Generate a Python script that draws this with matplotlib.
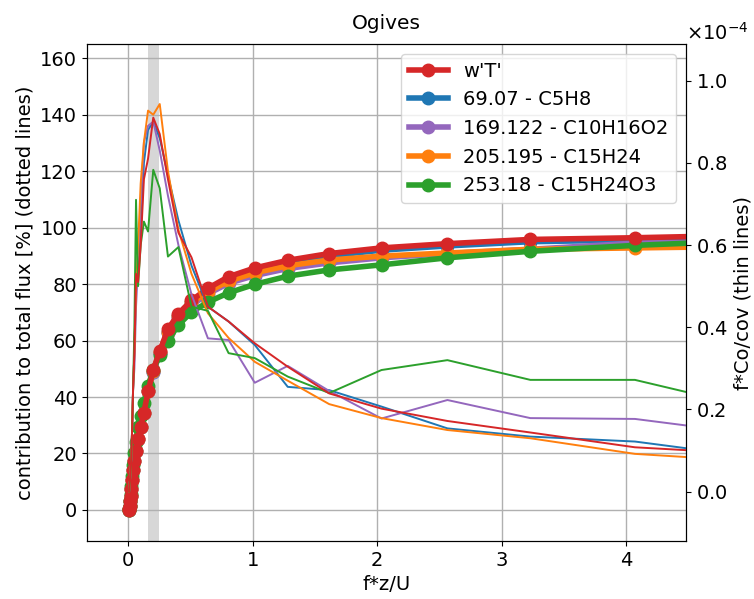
import matplotlib
matplotlib.use("Agg")
import matplotlib.pyplot as plt

# frequency axis (f*z/U)
x = [0.0080, 0.0100, 0.0126, 0.0159, 0.0200, 0.0252, 0.0320, 0.0400, 0.0505, 0.0636,
     0.0800, 0.101, 0.127, 0.160, 0.202, 0.254, 0.320, 0.404, 0.509, 0.641,
     0.807, 1.017, 1.282, 1.615, 2.035, 2.564, 3.23, 4.07, 5.13]

labels = ["w'T'", "69.07 - C5H8", "169.122 - C10H16O2", "205.195 - C15H24", "253.18 - C15H24O3"]
colors = ["#d62728", "#1f77b4", "#9467bd", "#ff7f0e", "#2ca02c"]

# ogives, contribution to total flux [%]
og_wT = [0, 0.5, 1.5, 3, 5, 7.5, 10.5, 14, 17.5, 21, 25, 29.5, 34.5, 42, 49.6, 56.3, 64, 69.5, 74.2, 78.5,
         82.6, 85.7, 88.4, 90.8, 92.8, 94.3, 95.8, 96.4, 97.4]
og_C5H8 = [0, 0.5, 1.5, 3, 5, 7.5, 10.5, 14, 17.5, 21, 25, 29.5, 34.5, 42, 49.0, 55.5, 63, 68.8, 73.5, 77.8,
           81.8, 84.9, 87.6, 90.0, 92.0, 93.5, 95.0, 95.6, 96.5]
og_C10H16O2 = [0, 0.5, 1.5, 3, 5, 7.5, 10.5, 14, 17.5, 21, 25, 29.5, 34.5, 42, 49.0, 55.5, 62.5, 68.0, 72.5, 76.5,
               80.3, 83.0, 85.5, 87.5, 89.3, 90.8, 92.3, 94.5, 95.3]
og_C15H24 = [0, 0.5, 1.5, 3, 5, 7.5, 10.5, 14, 17.5, 21, 25, 29.5, 34.5, 42, 49.3, 56.0, 63, 68.8, 73.5, 77.3,
             81.0, 84.0, 86.5, 88.5, 89.9, 91.0, 92.3, 92.8, 93.4]
og_C15H24O3 = [0, 0.5, 1.5, 3, 5.5, 8.5, 12, 16, 20, 24, 29.5, 33.3, 38, 44, 49.5, 55, 60, 65.5, 70.1, 73.6,
               76.9, 79.9, 82.8, 85.0, 86.8, 89.3, 91.6, 93.7, 95.6]

# normalised cospectra f*Co/cov (x 1e-4)
co_wT = [0.0, 0.01, 0.02, 0.03, 0.05, 0.08, 0.15, 0.25, 0.34, 0.53, 0.51, 0.60, 0.76, 0.81, 0.91, 0.87, 0.76, 0.63, 0.57, 0.45,
         0.414, 0.361, 0.304, 0.239, 0.202, 0.172, 0.144, 0.108, 0.09]
co_C5H8 = [0.0, 0.01, 0.02, 0.03, 0.05, 0.08, 0.15, 0.25, 0.34, 0.50, 0.55, 0.62, 0.80, 0.88, 0.90, 0.86, 0.77, 0.66, 0.55, 0.45,
           0.414, 0.357, 0.255, 0.247, 0.207, 0.154, 0.134, 0.122, 0.08]
co_C10H16O2 = [0.0, 0.01, 0.02, 0.03, 0.05, 0.08, 0.15, 0.25, 0.30, 0.45, 0.55, 0.70, 0.85, 0.89, 0.90, 0.83, 0.72, 0.60, 0.48, 0.373,
               0.369, 0.265, 0.306, 0.245, 0.178, 0.223, 0.179, 0.177, 0.136]
co_C15H24 = [0.0, 0.01, 0.02, 0.03, 0.05, 0.08, 0.15, 0.25, 0.34, 0.50, 0.60, 0.75, 0.85, 0.927, 0.917, 0.943, 0.78, 0.637, 0.53, 0.434,
             0.374, 0.316, 0.27, 0.213, 0.179, 0.15, 0.13, 0.092, 0.072]
co_C15H24O3 = [0.0, 0.01, 0.02, 0.03, 0.05, 0.08, 0.15, 0.25, 0.40, 0.71, 0.50, 0.60, 0.657, 0.633, 0.783, 0.738, 0.572, 0.595, 0.45, 0.44,
               0.337, 0.325, 0.28, 0.24, 0.296, 0.32, 0.272, 0.272, 0.196]

ogives = [og_wT, og_C5H8, og_C10H16O2, og_C15H24, og_C15H24O3]
cospec = [co_wT, co_C5H8, co_C10H16O2, co_C15H24, co_C15H24O3]

plt.rcParams["font.size"] = 14
fig = plt.figure(figsize=(7.54, 5.99), dpi=100)
ax = fig.add_axes([0.1154, 0.0968, 0.7944, 0.8297])
ax2 = ax.twinx()

ax.axvspan(0.16, 0.25, color="lightgray", alpha=0.9, lw=0, zorder=0)
ax.grid(True, color="#b0b0b0", lw=1)
ax.set_axisbelow(True)

handles = [None] * 5
for i in [1, 2, 3, 4, 0]:
    h, = ax.plot(x, ogives[i], "-o", color=colors[i], lw=4, ms=9, label=labels[i],
                 zorder=3 + (5 if i == 0 else 0))
    handles[i] = h

for i in [1, 2, 3, 4, 0]:
    ax2.plot(x, [v * 1e-4 for v in cospec[i]], "-", color=colors[i], lw=1.4)

ax.set_xlim(-0.33, 4.48)
ax.set_ylim(-11, 165)
ax2.set_ylim(-0.12e-4, 1.089e-4)
ax.set_xticks([0, 1, 2, 3, 4])
ax.set_yticks([0, 20, 40, 60, 80, 100, 120, 140, 160])
ax2.set_yticks([0, 0.2e-4, 0.4e-4, 0.6e-4, 0.8e-4, 1.0e-4])
ax2.ticklabel_format(axis="y", style="sci", scilimits=(0, 0), useMathText=True)
ax2.yaxis.get_offset_text().set_horizontalalignment("left")

ax.set_title("Ogives", fontsize=14.5, pad=11)
ax.set_xlabel("f*z/U")
ax.set_ylabel("contribution to total flux [%] (dotted lines)")
ax2.set_ylabel("f*Co/cov (thin lines)")

leg = ax2.legend(handles=handles, loc="upper right", fontsize=14, framealpha=0.8)

fig.savefig("out.png", dpi=100)
